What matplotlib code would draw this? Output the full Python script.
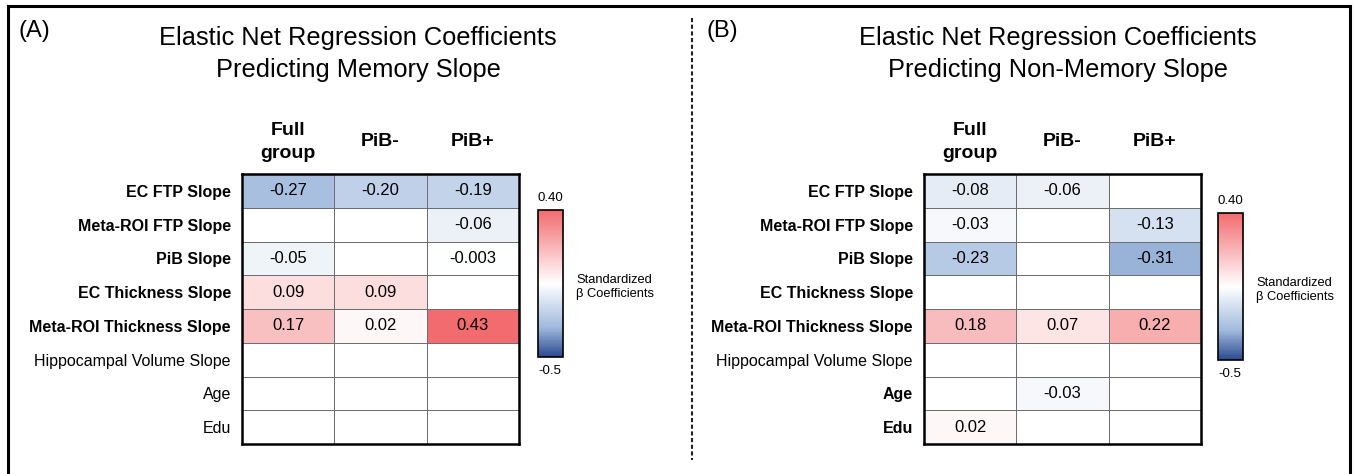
import numpy as np
import matplotlib
matplotlib.use('Agg')
import matplotlib.pyplot as plt
from matplotlib.colors import LinearSegmentedColormap, TwoSlopeNorm
from matplotlib.lines import Line2D
import matplotlib.cm as cm

plt.rcParams['font.family'] = ['Liberation Sans', 'DejaVu Sans']

# rows and columns
predictors = ['EC FTP Slope', 'Meta-ROI FTP Slope', 'PiB Slope', 'EC Thickness Slope',
              'Meta-ROI Thickness Slope', 'Hippocampal Volume Slope', 'Age', 'Edu']
groups = ['Full\ngroup', 'PiB-', 'PiB+']

# coefficients, NaN = not selected
memory = [[-0.27, -0.20, -0.19],
          [np.nan, np.nan, -0.06],
          [-0.05, np.nan, -0.003],
          [0.09, 0.09, np.nan],
          [0.17, 0.02, 0.43],
          [np.nan, np.nan, np.nan],
          [np.nan, np.nan, np.nan],
          [np.nan, np.nan, np.nan]]
nonmemory = [[-0.08, -0.06, np.nan],
             [-0.03, np.nan, -0.13],
             [-0.23, np.nan, -0.31],
             [np.nan, np.nan, np.nan],
             [0.18, 0.07, 0.22],
             [np.nan, np.nan, np.nan],
             [np.nan, -0.03, np.nan],
             [0.02, np.nan, np.nan]]

bold_memory = [True, True, True, True, True, False, False, False]
bold_nonmemory = [True, True, True, True, True, False, True, True]

titles = ['Elastic Net Regression Coefficients\nPredicting Memory Slope',
          'Elastic Net Regression Coefficients\nPredicting Non-Memory Slope']
vmin, vmax = -0.5, 0.40

cmap = LinearSegmentedColormap.from_list(
    'bwr_custom', [(0.0, '#2B4A8E'), (0.2, '#A0B9DD'), (0.5, '#FFFFFF'),
                   (1.0, '#F26B6E')])
cmap.set_bad('white')
norm = TwoSlopeNorm(vmin=vmin, vcenter=0.0, vmax=vmax)

W, H = 1354, 474
fig = plt.figure(figsize=(W / 100, H / 100), dpi=100)


def fx(px):
    return px / W


def fy(py):
    return 1 - py / H


def draw_panel(data, bold, title, tag, tx, left, cb_left, cb_top, title_x):
    arr = np.ma.masked_invalid(np.array(data, dtype=float))
    ax = fig.add_axes([fx(left), fy(444), fx(277), 270 / H])
    ax.pcolormesh(arr, cmap=cmap, norm=norm, edgecolors='#6e6e6e', linewidth=0.55)
    ax.set_xlim(0, 3)
    ax.set_ylim(len(predictors), 0)
    for s in ax.spines.values():
        s.set_linewidth(1.8)
        s.set_color('black')
    ax.set_xticks([])
    ax.set_yticks(np.arange(len(predictors)) + 0.5)
    ax.set_yticklabels(predictors, fontsize=11.5)
    ax.tick_params(axis='y', length=0, pad=8)
    for lab, b in zip(ax.get_yticklabels(), bold):
        lab.set_fontweight('bold' if b else 'normal')
    for i in range(arr.shape[0]):
        for j in range(arr.shape[1]):
            v = arr[i, j]
            if np.ma.is_masked(v):
                continue
            s = f'{v:.3f}' if abs(v) < 0.01 else f'{v:.2f}'
            ax.text(j + 0.5, i + 0.5, s, ha='center', va='center', fontsize=12)
    for j, g in enumerate(groups):
        ax.text(j + 0.5, -0.95, g, ha='center', va='center', fontsize=14,
                fontweight='bold', linespacing=1.4)

    cax = fig.add_axes([fx(cb_left), fy(cb_top + 147), fx(25), 147 / H])
    cb = fig.colorbar(cm.ScalarMappable(norm=norm, cmap=cmap), cax=cax)
    cb.set_ticks([])
    cb.outline.set_linewidth(1.2)
    fig.text(fx(cb_left + 12), fy(cb_top - 12), '0.40', ha='center', va='center', fontsize=9.5)
    fig.text(fx(cb_left + 12), fy(cb_top + 161), '-0.5', ha='center', va='center', fontsize=9.5)
    fig.text(fx(cb_left + 38), fy(cb_top + 77), 'Standardized\n\u03b2 Coefficients',
             ha='left', va='center', fontsize=9.3, linespacing=1.2)

    fig.text(fx(title_x), fy(54), title, ha='center', va='center', fontsize=18.3,
             linespacing=1.4)
    fig.text(fx(tx), fy(31), tag, ha='left', va='center', fontsize=17)


draw_panel(memory, bold_memory, titles[0], '(A)', 19, 242, 538, 210, 358)
draw_panel(nonmemory, bold_nonmemory, titles[1], '(B)', 706, 924, 1218, 213, 1058)

# outer frame and divider
fig.add_artist(Line2D([fx(8), fx(8)], [fy(6), 0], color='black', lw=2.2))
fig.add_artist(Line2D([fx(8), fx(1350)], [fy(6), fy(6)], color='black', lw=2.2))
fig.add_artist(Line2D([fx(1350), fx(1350)], [fy(6), 0], color='black', lw=2.2))
fig.add_artist(Line2D([fx(692), fx(692)], [fy(18), fy(460)], color='#222222', lw=1.5,
                      linestyle=(0, (2.0, 1.2))))

fig.savefig('out.png', dpi=100)
